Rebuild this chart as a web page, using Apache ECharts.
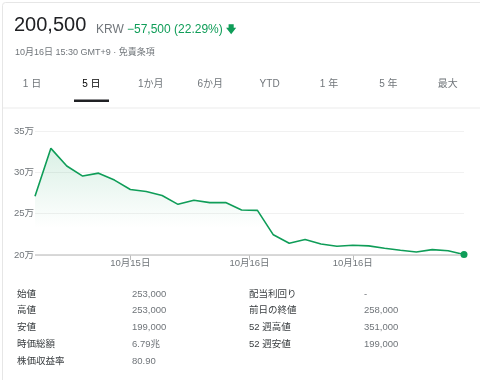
<!DOCTYPE html>
<html>
<head>
<meta charset="utf-8">
<script src="https://cdn.jsdelivr.net/npm/echarts@6/dist/echarts.min.js"></script>
<style>
html,body{margin:0;padding:0;background:#fff;}
#c{width:480px;height:380px;}
</style>
</head>
<body>
<div id="c"></div>
<script>
var prices = [271000, 329000, 307700, 295500, 299000, 290600, 279300, 276800, 272000, 261300, 266200, 263400, 263400, 254500, 254000, 224400, 214300, 218700, 213400, 210600, 211800, 211000, 208200, 205700, 203700, 206500, 205200, 200500];
var tickPositions = [6, 13.5, 20];
var tickLabels = ['10月15日', '10月16日', '10月16日'];
var yTicks = [200000, 250000, 300000, 350000];
var tabs = ['1 日', '5 日', '1か月', '6か月', 'YTD', '1 年', '5 年', '最大'];
var statsLeftLabels = ['始値', '高値', '安値', '時価総額', '株価収益率'];
var statsLeftValues = ['253,000', '253,000', '199,000', '6.79兆', '80.90'];
var statsRightLabels = ['配当利回り', '前日の終値', '52 週高値', '52 週安値'];
var statsRightValues = ['-', '258,000', '351,000', '199,000'];

var FONT = "'Liberation Sans', Arial, 'Noto Sans CJK JP', sans-serif";
var GREEN = '#0f9d58';
var GREY = '#70757a';
var DARK = '#202124';

var seriesData = prices.map(function (v, i) { return [i, v]; });

var graphics = [];
graphics.push({ type: 'rect', shape: { x: 2.5, y: 2.5, width: 490, height: 390, r: 3 }, style: { fill: 'none', stroke: '#e6e6e6', lineWidth: 1 }, z: 0 });
graphics.push({ type: 'text', left: 14, top: 15, style: { text: '200,500', font: '20px ' + FONT, fill: DARK } });
graphics.push({ type: 'text', left: 96, top: 24, style: { text: 'KRW', font: '12px ' + FONT, fill: GREY } });
graphics.push({ type: 'text', left: 127, top: 24, style: { text: '−57,500 (22.29%)', font: '12px ' + FONT, fill: GREEN } });
graphics.push({ type: 'text', left: 226, top: 25, style: { text: '🡇', font: 'bold 10px ' + FONT, fill: GREEN } });
graphics.push({ type: 'text', left: 15, top: 48, style: { text: '10月16日 15:30 GMT+9 · 免責条項', font: '9px ' + FONT, fill: GREY } });
tabs.forEach(function (t, i) {
  graphics.push({ type: 'text', x: 32 + i * 59.4, y: 84, style: { text: t, font: '10px ' + FONT, fill: i === 1 ? '#000' : GREY, align: 'center', verticalAlign: 'middle' } });
});
graphics.push({ type: 'rect', shape: { x: 74, y: 99.5, width: 35, height: 2.5 }, style: { fill: DARK } });
graphics.push({ type: 'rect', shape: { x: 3, y: 107.5, width: 477, height: 1 }, style: { fill: '#ebebeb' } });
statsLeftLabels.forEach(function (t, i) {
  var y = 294 + i * 16.8;
  graphics.push({ type: 'text', x: 17, y: y, style: { text: t, font: '9.5px ' + FONT, fill: '#3c4043', verticalAlign: 'middle' } });
  graphics.push({ type: 'text', x: 132, y: y, style: { text: statsLeftValues[i], font: '9.5px ' + FONT, fill: GREY, verticalAlign: 'middle' } });
});
statsRightLabels.forEach(function (t, i) {
  var y = 294 + i * 16.8;
  graphics.push({ type: 'text', x: 249, y: y, style: { text: t, font: '9.5px ' + FONT, fill: '#3c4043', verticalAlign: 'middle' } });
  graphics.push({ type: 'text', x: 364, y: y, style: { text: statsRightValues[i], font: '9.5px ' + FONT, fill: GREY, verticalAlign: 'middle' } });
});

var chart = echarts.init(document.getElementById('c'), null, { renderer: 'canvas' });
chart.setOption({
  animation: false,
  backgroundColor: '#fff',
  textStyle: { fontFamily: FONT },
  grid: { left: 35, right: 16, top: 131, bottom: 125, containLabel: false },
  xAxis: {
    type: 'value', min: 0, max: prices.length - 1,
    axisLine: { show: false },
    splitLine: { show: false },
    axisTick: { show: true, customValues: tickPositions, length: 5, inside: false, lineStyle: { color: '#bbb' } },
    axisLabel: {
      customValues: tickPositions,
      formatter: function (v) { var k = tickPositions.indexOf(v); return k >= 0 ? tickLabels[k] : ''; },
      color: GREY, fontSize: 9.5, fontFamily: FONT, margin: 4
    }
  },
  yAxis: {
    type: 'value', min: 200000, max: 350000, interval: 50000,
    axisLine: { show: false }, axisTick: { show: false },
    axisLabel: { formatter: function (v) { return (v / 10000) + '万'; }, color: GREY, fontSize: 9.5, fontFamily: FONT, margin: 1 },
    splitLine: { show: true, lineStyle: { color: '#f1f1f1', width: 1 } }
  },
  series: [{
    type: 'line', data: seriesData, symbol: 'none', smooth: false,
    lineStyle: { color: GREEN, width: 1.6 },
    areaStyle: { origin: 'start', color: new echarts.graphic.LinearGradient(0, 0, 0, 1, [{ offset: 0, color: 'rgba(15,157,88,0.22)' }, { offset: 0.75, color: 'rgba(15,157,88,0.0)' }]) },
    markLine: {
      silent: true, symbol: 'none', label: { show: false },
      lineStyle: { color: '#cccccc', width: 1.5, type: 'solid' },
      data: [{ yAxis: 200000 }]
    },
    markPoint: {
      silent: true, symbol: 'circle', symbolSize: 7, label: { show: false },
      itemStyle: { color: GREEN },
      data: [{ coord: seriesData[seriesData.length - 1] }]
    },
    z: 3
  }],
  graphic: graphics
});
</script>
</body>
</html>
